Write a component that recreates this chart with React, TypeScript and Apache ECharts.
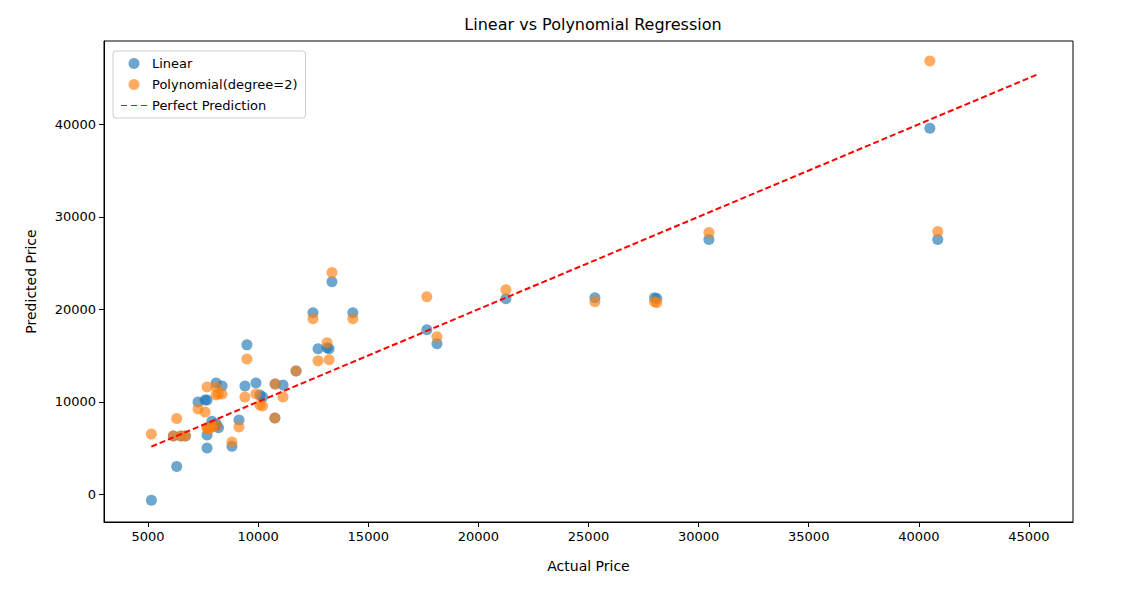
import { useEffect, useRef } from 'react';
import * as echarts from 'echarts';

// actual price, linear prediction, polynomial prediction
const actual = [5150, 6150, 6300, 6500, 6700, 7680, 7680, 7900, 8090, 8200, 8810, 9130, 10760, 9490, 8090, 7680, 8360, 7270, 7590, 9400, 9900, 10080, 10200, 10770, 11130, 11720, 12720, 13130, 13350, 12490, 14300, 13220, 17660, 18120, 21250, 25290, 28000, 28100, 30470, 40500, 40860, 7800, 8100];
const linear = [-650, 6300, 3000, 6300, 6300, 4990, 6400, 7900, 7400, 7200, 5200, 8020, 8240, 16150, 12030, 10190, 11700, 9970, 10190, 11700, 12030, 10730, 10500, 11920, 11810, 13330, 15720, 15830, 22980, 19620, 19620, 15720, 17780, 16260, 21140, 21250, 21250, 21150, 27530, 39570, 27530, 7300, 7600];
const poly = [6500, 6300, 8200, 6300, 6300, 7150, 7150, 7300, 10730, 10840, 5640, 7260, 8240, 14630, 11600, 11600, 10840, 9210, 8890, 10510, 10840, 9650, 9540, 11920, 10510, 13330, 14420, 16370, 23960, 18970, 18970, 14530, 21350, 17020, 22110, 20810, 20810, 20700, 28290, 46830, 28400, 7100, 7400];
const lineEnds = [5150, 45400];
const xTicks = [5000, 10000, 15000, 20000, 25000, 30000, 35000, 40000, 45000];
const yTicks = [0, 10000, 20000, 30000, 40000];

export default function App() {
  const ref = useRef<HTMLDivElement>(null);

  useEffect(() => {
    if (!ref.current) return;
    const chart = echarts.init(ref.current, null, { renderer: 'svg' });
    const font = 'DejaVu Sans';
    chart.setOption({
      animation: false,
      textStyle: { fontFamily: font },
      title: {
        text: 'Linear vs Polynomial Regression',
        left: 580, top: 3, textAlign: 'center',
        textStyle: { fontSize: 16, fontWeight: 'normal', color: '#000', fontFamily: font },
      },
      legend: {
        left: 105, top: 43, orient: 'vertical', itemGap: 8, itemWidth: 26, itemHeight: 11,
        backgroundColor: '#fff', borderColor: '#ccc', borderWidth: 1, borderRadius: 3,
        padding: [6, 8, 6, 8],
        textStyle: { fontSize: 13, color: '#000' },
        data: [
          { name: 'Linear', icon: 'circle' },
          { name: 'Polynomial(degree=2)', icon: 'circle' },
          { name: 'Perfect Prediction', icon: 'path://M0,0 L6,0 L6,1 L0,1 Z M10,0 L16,0 L16,1 L10,1 Z M20,0 L26,0 L26,1 L20,1 Z' },
        ],
      },
      grid: { left: 96, right: 62, top: 33, bottom: 64 },
      xAxis: {
        type: 'value', min: 3000, max: 47000,
        name: 'Actual Price', nameLocation: 'middle', nameGap: 37,
        nameTextStyle: { fontSize: 14, color: '#000' },
        axisLine: { onZero: false, lineStyle: { color: '#000' } },
        axisTick: { customValues: xTicks, lineStyle: { color: '#000' } },
        axisLabel: { fontSize: 13, color: '#000', customValues: xTicks, formatter: (v: number) => String(v) },
        splitLine: { show: false },
      },
      yAxis: {
        type: 'value', min: -3000, max: 49000,
        name: 'Predicted Price', nameLocation: 'middle', nameGap: 66,
        nameTextStyle: { fontSize: 14, color: '#000' },
        axisLine: { show: true, onZero: false, lineStyle: { color: '#000' } },
        axisTick: { show: true, customValues: yTicks, lineStyle: { color: '#000' } },
        axisLabel: { fontSize: 13, color: '#000', customValues: yTicks, formatter: (v: number) => String(v) },
        splitLine: { show: false },
      },
      series: [
        {
          name: 'Linear', type: 'scatter', symbolSize: 11,
          itemStyle: { color: '#1f77b4', opacity: 0.65 },
          data: actual.map((x, i) => [x, linear[i]]),
        },
        {
          name: 'Polynomial(degree=2)', type: 'scatter', symbolSize: 11,
          itemStyle: { color: '#ff7f0e', opacity: 0.65 },
          data: actual.map((x, i) => [x, poly[i]]),
        },
        {
          name: 'Perfect Prediction', type: 'line', symbol: 'none',
          lineStyle: { color: '#ff0000', type: [6, 3], width: 2 },
          itemStyle: { color: '#ff0000' },
          data: lineEnds.map(v => [v, v]),
        },
      ],
      graphic: [{
        type: 'rect', shape: { x: 96, y: 33, width: 969, height: 481 }, z: 100,
        style: { fill: 'none', stroke: '#000', lineWidth: 1 }, silent: true,
      }],
    });
    return () => chart.dispose();
  }, []);

  return <div ref={ref} style={{ width: 1127, height: 578 }} />;
}
